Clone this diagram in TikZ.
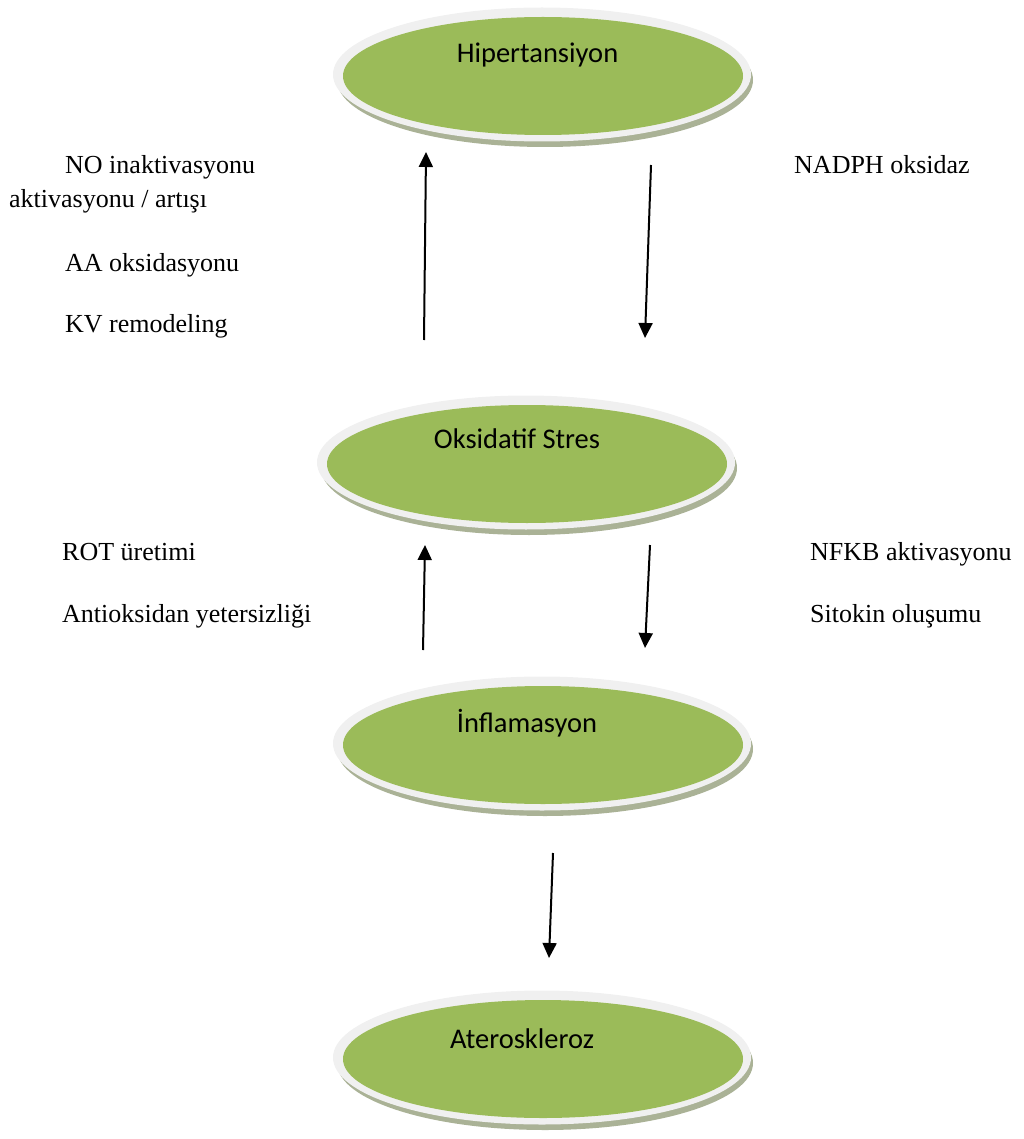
\documentclass[tikz,border=0pt]{standalone}
\usepackage{fontspec}
\setmainfont{Liberation Serif}
\newfontfamily\calib{Carlito}
\usetikzlibrary{arrows.meta,shapes.geometric}
\definecolor{ovgreen}{HTML}{9BBB59}
\definecolor{ovring}{HTML}{F0F0F0}
\definecolor{ovshadow}{HTML}{AAB296}
\tikzset{
  ovshad/.style={ellipse, fill=ovshadow, minimum width=416pt, minimum height=134pt, inner sep=0pt},
  ovringst/.style={ellipse, fill=ovring, minimum width=418pt, minimum height=134pt, inner sep=0pt},
  ovfill/.style={ellipse, fill=ovgreen, minimum width=400pt, minimum height=118pt, inner sep=0pt},
  ovtext/.style={anchor=base, font=\calib\fontsize{28.5}{32}\selectfont, inner sep=0pt},
  lbl/.style={anchor=base west, font=\fontsize{26}{30}\selectfont, inner sep=0pt},
  arr/.style={line width=2pt, -{Triangle[length=15pt,width=14pt]}}
}
\newcommand\myoval[4]{% name, x, y, (unused)
  \node[ovshad] (#1s) at (#2+2,#3+4) {};
  \node[ovringst] (#1r) at (#2-1,#3-1.5) {};
  \node[ovfill] (#1) at (#2,#3) {};
}
\begin{document}
\begin{tikzpicture}[x=1pt,y=-1pt]
\useasboundingbox (0,0) rectangle (1024,1139);
% ovals
\myoval{hyp}{543}{76}{}
\myoval{oks}{527}{464}{}
\myoval{inf}{543}{745}{}
\myoval{ate}{543}{1059}{}
\node[ovtext] (thyp) at (537.5,63) {Hipertansiyon};
\node[ovtext] (toks) at (517,448) {Oksidatif Stres};
\node[ovtext] (tinf) at (527,732) {İnflamasyon};
\node[ovtext] (tate) at (522,1048) {Ateroskleroz};
% labels
\node[lbl] (l1) at (65,174) {NO inaktivasyonu};
\node[lbl] (l2) at (9,208) {aktivasyonu / artışı};
\node[lbl] (l3) at (65,272) {AA oksidasyonu};
\node[lbl] (l4) at (65,332) {KV remodeling};
\node[lbl] (l5) at (794,174) {NADPH oksidaz};
\node[lbl] (l6) at (62,560) {ROT üretimi};
\node[lbl] (l7) at (62,622) {Antioksidan yetersizliği};
\node[lbl] (l8) at (810,560) {NFKB aktivasyonu};
\node[lbl] (l9) at (810,622) {Sitokin oluşumu};
% arrow end points
\coordinate (a1s) at (424,340); \coordinate (a1e) at (426,152);
\coordinate (a2s) at (651,165); \coordinate (a2e) at (645,338);
\coordinate (a3s) at (423,650); \coordinate (a3e) at (425,545);
\coordinate (a4s) at (650,545); \coordinate (a4e) at (645,648);
\coordinate (a5s) at (553,853); \coordinate (a5e) at (549,958);
\draw[arr] (a1s) -- (a1e);
\draw[arr] (a2s) -- (a2e);
\draw[arr] (a3s) -- (a3e);
\draw[arr] (a4s) -- (a4e);
\draw[arr] (a5s) -- (a5e);
\end{tikzpicture}
\end{document}
